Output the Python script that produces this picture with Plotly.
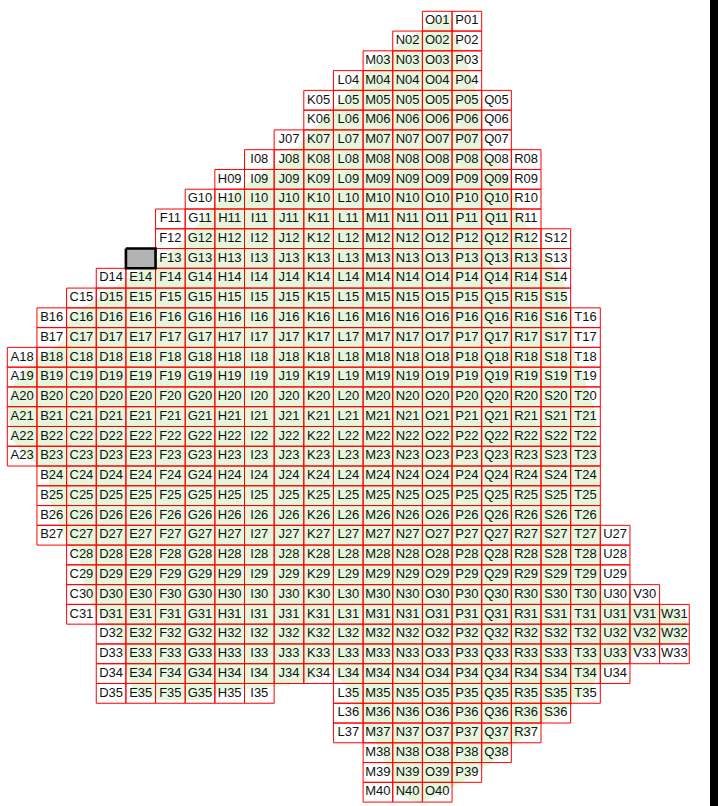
import plotly.graph_objects as go

# ---------------- data ----------------
COLUMNS = list("ABCDEFGHIJKLMNOPQRSTUVW")
ROWS = list(range(1, 41))
ROW_START = ["O", "N", "M", "L", "K", "K", "J", "I", "H", "G",
             "F", "F", "F", "D", "C", "B", "B", "A", "A", "A",
             "A", "A", "A", "B", "B", "B", "B", "C", "C", "C",
             "C", "D", "D", "D", "D", "L", "L", "M", "M", "M"]
ROW_END = ["P", "P", "P", "P", "Q", "Q", "Q", "R", "R", "R",
           "R", "S", "S", "S", "S", "T", "T", "T", "T", "T",
           "T", "T", "T", "T", "T", "T", "U", "U", "U", "V",
           "W", "W", "W", "U", "T", "S", "R", "Q", "P", "O"]
MISSING_CELLS = ["J35", "K35"]
BLANK_CELL = "E13"

# outline of the green land shape, in grid units (column, row)
OUTLINE_COL = [14.89, 15.20, 15.47, 15.74, 16.01, 16.08, 16.28, 16.79, 17.02, 17.22,
               17.63, 17.97, 18.24, 18.71, 18.91, 19.05, 19.15, 19.48, 19.82, 19.92,
               19.99, 20.02, 19.99, 20.16, 20.83, 22.01, 22.69, 22.96, 22.82, 22.01,
               21.34, 20.83, 19.99, 19.65, 19.05, 18.14, 17.29, 16.45, 15.44, 14.59,
               13.85, 13.24, 12.91, 12.40, 11.89, 11.56, 11.22, 10.88, 10.21, 9.53,
               8.52, 7.51, 6.50, 5.15, 4.31, 4.00, 3.80, 3.46, 2.96, 2.62,
               2.45, 1.95, 1.44, 1.37, 0.77, 0.16, 0.02, 0.26, 0.93, 1.95,
               2.11, 2.96, 3.97, 4.98, 5.66, 6.33, 7.00, 8.02, 9.03, 9.87,
               10.27, 10.98, 11.56, 12.06, 12.74, 13.41, 14.26, 14.59]
OUTLINE_ROW = [0.09, 1.45, 2.46, 3.73, 4.99, 7.02, 7.27, 8.03, 9.04, 10.05,
               11.06, 12.07, 12.58, 13.34, 14.60, 15.61, 17.64, 18.65, 20.17, 22.19,
               24.72, 25.73, 28.77, 29.78, 29.93, 30.03, 30.28, 31.04, 31.80, 32.10,
               32.31, 32.81, 33.32, 34.33, 35.09, 35.85, 36.86, 37.87, 38.88, 39.64,
               40.05, 39.64, 38.63, 36.86, 35.85, 34.33, 33.82, 33.22, 33.82, 34.08,
               34.23, 34.33, 34.84, 34.84, 34.58, 33.32, 31.80, 31.04, 30.28, 29.27,
               27.75, 26.74, 24.72, 23.20, 22.70, 21.68, 20.17, 18.65, 17.64, 16.63,
               15.36, 14.60, 13.59, 12.58, 12.07, 10.96, 9.80, 8.79, 7.77, 6.76,
               6.00, 4.99, 3.98, 3.07, 2.21, 1.45, 0.69, 0.34]

LAND_COLOR = "rgb(229,246,221)"
GRID_COLOR = "#ff0000"

# ---------------- build cells ----------------
cells = []
for r, s, e in zip(ROWS, ROW_START, ROW_END):
    for c in COLUMNS[COLUMNS.index(s):COLUMNS.index(e) + 1]:
        name = f"{c}{r:02d}"
        if name in MISSING_CELLS:
            continue
        cells.append((COLUMNS.index(c), r, name))

gx, gy = [], []
for ci, r, name in cells:
    gx += [ci, ci + 1, ci + 1, ci, ci, None]
    gy += [r - 1, r - 1, r, r, r - 1, None]

fig = go.Figure()

fig.add_trace(go.Scatter(
    x=OUTLINE_COL + OUTLINE_COL[:1], y=OUTLINE_ROW + OUTLINE_ROW[:1],
    mode="lines", fill="toself", fillcolor=LAND_COLOR,
    line=dict(width=0, color=LAND_COLOR), hoverinfo="skip"))

fig.add_trace(go.Scatter(
    x=gx, y=gy, mode="lines", line=dict(color=GRID_COLOR, width=1),
    hoverinfo="skip"))

fig.add_trace(go.Scatter(
    x=[ci + 0.5 for ci, r, n in cells], y=[r - 0.5 for ci, r, n in cells],
    text=[n for ci, r, n in cells], mode="text", textposition="middle center",
    textfont=dict(family="Liberation Sans, Arial, sans-serif", size=13, color="#111111"),
    hoverinfo="text"))

bc = COLUMNS.index(BLANK_CELL[0])
br = int(BLANK_CELL[1:])
fig.add_trace(go.Scatter(
    x=[bc, bc + 1, bc + 1, bc, bc], y=[br - 1, br - 1, br, br, br - 1],
    mode="lines", fill="toself", fillcolor="#b3b3b3",
    line=dict(color="#000000", width=2.6), hoverinfo="skip"))

W, H = 726, 806
fig.update_layout(
    width=W, height=H, margin=dict(l=0, r=0, t=0, b=0),
    paper_bgcolor="white", plot_bgcolor="white", showlegend=False,
    xaxis=dict(visible=False, range=[-7.3 / 29.65, (W - 7.3) / 29.65], fixedrange=True),
    yaxis=dict(visible=False, range=[(H - 11.3) / 19.77, -11.3 / 19.77], fixedrange=True),
    shapes=[dict(type="rect", xref="paper", yref="paper",
                 x0=710 / W, x1=718 / W, y0=0, y1=1,
                 fillcolor="black", line=dict(width=0))],
)

fig.write_html("out.html", config={"displayModeBar": False},
               post_script="document.body.style.margin='0px';document.body.style.overflow='hidden';")
